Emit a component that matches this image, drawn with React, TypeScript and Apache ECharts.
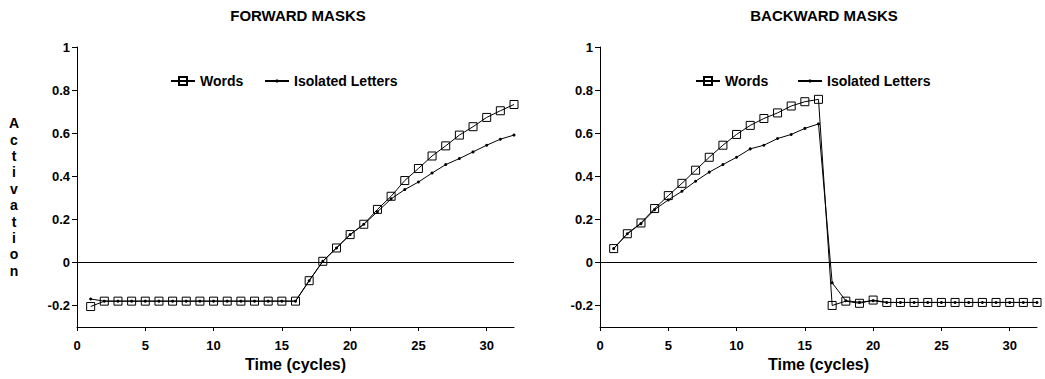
import React, { useEffect, useRef } from "react";
import * as echarts from "echarts";

const cycles = Array.from({ length: 32 }, (_, i) => i + 1);

const forwardWords = [
  -0.205, -0.18, -0.18, -0.18, -0.18, -0.18, -0.18, -0.18, -0.18, -0.18, -0.18, -0.18, -0.18, -0.18, -0.18, -0.18,
  -0.085, 0.005, 0.067, 0.129, 0.177, 0.246, 0.307, 0.38, 0.436, 0.494, 0.541, 0.591, 0.63, 0.673, 0.704, 0.733,
];
const forwardLetters = [
  -0.17, -0.18, -0.18, -0.18, -0.18, -0.18, -0.18, -0.18, -0.18, -0.18, -0.18, -0.18, -0.18, -0.18, -0.18, -0.18,
  -0.085, 0.005, 0.067, 0.129, 0.177, 0.235, 0.295, 0.338, 0.373, 0.415, 0.454, 0.482, 0.513, 0.544, 0.572, 0.591,
];
const backwardWords = [
  0.064, 0.133, 0.183, 0.25, 0.31, 0.367, 0.428, 0.488, 0.544, 0.594, 0.636, 0.668, 0.694, 0.726, 0.746, 0.757,
  -0.2, -0.18, -0.19, -0.175, -0.186, -0.186, -0.186, -0.186, -0.186, -0.186, -0.186, -0.186, -0.186, -0.186, -0.186, -0.186,
];
const backwardLetters = [
  0.064, 0.133, 0.18, 0.245, 0.29, 0.33, 0.377, 0.419, 0.454, 0.488, 0.527, 0.544, 0.575, 0.594, 0.622, 0.643,
  -0.095, -0.178, -0.185, -0.178, -0.186, -0.186, -0.186, -0.186, -0.186, -0.186, -0.186, -0.186, -0.186, -0.186, -0.186, -0.186,
];

const xTicks = [0, 5, 10, 15, 20, 25, 30];
const yTicks = [-0.2, 0, 0.2, 0.4, 0.6, 0.8, 1];
const panelTitles = ["FORWARD MASKS", "BACKWARD MASKS"];
const xAxisName = "Time (cycles)";
const yAxisName = "Activation";
const seriesNames = ["Words", "Isolated Letters"];

const FONT = "'Liberation Sans', Arial, sans-serif";

export default function App() {
  const ref = useRef<HTMLDivElement>(null);
  useEffect(() => {
    if (!ref.current) return;
    const chart = echarts.init(ref.current, null, { renderer: "svg" });
    const pair = (arr: number[]) => cycles.map((c, i) => [c, arr[i]]);

    const xAxisBase = (gridIndex: number) => ({
      type: "value",
      gridIndex,
      min: 0,
      max: 32,
      name: xAxisName,
      nameLocation: "middle",
      nameGap: 23,
      nameTextStyle: { fontFamily: FONT, fontWeight: "bold", fontSize: 16, color: "#000" },
      axisLine: { show: true, onZero: false, lineStyle: { color: "#000", width: 1 } },
      axisTick: { show: true, inside: false, length: 4, customValues: xTicks, lineStyle: { color: "#000" } },
      axisLabel: {
        customValues: xTicks,
        margin: 12,
        fontFamily: FONT,
        fontWeight: "bold",
        fontSize: 13,
        color: "#000",
      },
      splitLine: { show: false },
    });
    const yAxisBase = (gridIndex: number) => ({
      type: "value",
      gridIndex,
      min: -0.3,
      max: 1,
      axisLine: { show: true, onZero: false, lineStyle: { color: "#000", width: 1 } },
      axisTick: { show: true, inside: false, length: 5, customValues: yTicks, lineStyle: { color: "#000" } },
      axisLabel: {
        customValues: yTicks,
        margin: 7,
        fontFamily: FONT,
        fontWeight: "bold",
        fontSize: 13,
        color: "#000",
        formatter: (v: number) => String(Math.round(v * 10) / 10),
      },
      splitLine: { show: false },
    });

    const wordsSeries = (idx: number, data: number[]) => ({
      type: "line",
      name: seriesNames[0],
      xAxisIndex: idx,
      yAxisIndex: idx,
      data: pair(data),
      symbol: "rect",
      symbolSize: 8,
      showAllSymbol: true,
      lineStyle: { color: "#000", width: 1 },
      itemStyle: { color: "rgba(0,0,0,0)", borderColor: "#000", borderWidth: 1 },
      z: 2,
      markLine: {
        silent: true,
        symbol: ["none", "none"],
        label: { show: false },
        lineStyle: { color: "#000", width: 1, type: "solid" },
        data: [{ yAxis: 0 }],
      },
    });
    const lettersSeries = (idx: number, data: number[]) => ({
      type: "line",
      name: seriesNames[1],
      xAxisIndex: idx,
      yAxisIndex: idx,
      data: pair(data),
      symbol: "circle",
      symbolSize: 3,
      showAllSymbol: true,
      lineStyle: { color: "#000", width: 1 },
      itemStyle: { color: "#000" },
      z: 3,
    });

    const legendText = { fontFamily: FONT, fontWeight: "bold", fontSize: 14, color: "#000" };
    const legend = (left: number, name: string, h: number) => ({
      left,
      top: 74,
      padding: 0,
      itemWidth: 24,
      itemHeight: h,
      selectedMode: false,
      data: [name],
      textStyle: legendText,
    });

    chart.setOption({
      animation: false,
      backgroundColor: "#fff",
      grid: [
        { left: 77, right: 531, top: 47, bottom: 52 },
        { left: 600, right: 8, top: 47, bottom: 52 },
      ],
      xAxis: [xAxisBase(0), xAxisBase(1)],
      yAxis: [yAxisBase(0), yAxisBase(1)],
      legend: [
        legend(170, seriesNames[0], 10),
        legend(264, seriesNames[1], 4),
        legend(695, seriesNames[0], 10),
        legend(797, seriesNames[1], 4),
      ],
      graphic: [
        {
          type: "text",
          x: 298,
          y: 15,
          style: {
            text: panelTitles[0],
            font: `bold 15px ${FONT}`,
            fill: "#000",
            align: "center",
            verticalAlign: "middle",
          },
        },
        {
          type: "text",
          x: 824,
          y: 15,
          style: {
            text: panelTitles[1],
            font: `bold 15px ${FONT}`,
            fill: "#000",
            align: "center",
            verticalAlign: "middle",
          },
        },
        {
          type: "text",
          x: 14,
          y: 197,
          style: {
            text: yAxisName.split("").join("\n"),
            font: `bold 14px ${FONT}`,
            lineHeight: 16.4,
            fill: "#000",
            align: "center",
            verticalAlign: "middle",
          },
        },
      ],
      series: [
        wordsSeries(0, forwardWords),
        lettersSeries(0, forwardLetters),
        wordsSeries(1, backwardWords),
        lettersSeries(1, backwardLetters),
      ],
    });
    return () => chart.dispose();
  }, []);
  return <div ref={ref} style={{ width: 1045, height: 379, position: "absolute", left: 0, top: 0 }} />;
}
